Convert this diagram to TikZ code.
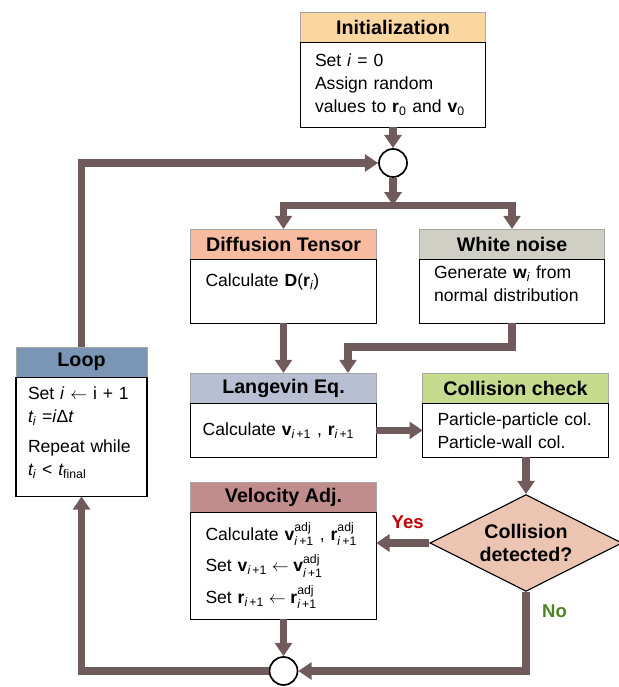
\documentclass[tikz,border=0pt]{standalone}
\usepackage{amsmath}
\usepackage{fontspec}
\setmainfont{Liberation Sans}
\usetikzlibrary{arrows.meta, positioning, shapes.geometric}

\definecolor{initc}{RGB}{250,214,160}
\definecolor{diffc}{RGB}{247,187,160}
\definecolor{noisec}{RGB}{208,207,198}
\definecolor{loopc}{RGB}{122,150,180}
\definecolor{langc}{RGB}{185,191,210}
\definecolor{collc}{RGB}{198,219,142}
\definecolor{velc}{RGB}{192,141,140}
\definecolor{diac}{RGB}{236,196,178}
\definecolor{flowc}{RGB}{113,90,92}
\definecolor{yesc}{RGB}{192,0,0}
\definecolor{noc}{RGB}{80,130,40}

\begin{document}
\begin{tikzpicture}[font=\fontsize{12.5}{16.3}\selectfont,
  head/.style={draw=black!35, line width=0.6pt, minimum width=4.64cm, minimum height=0.76cm, inner sep=0pt, outer sep=0pt, font=\fontsize{14}{17}\selectfont\bfseries},
  body/.style={draw, line width=0.8pt, minimum width=4.64cm, text width=3.9cm, inner xsep=0.37cm, inner ysep=0pt, outer sep=0pt, align=left},
  joint/.style={circle, draw, line width=1.2pt, fill=white, minimum size=0.7cm, inner sep=0pt},
  flow/.style={draw=flowc, line width=5pt, -{Triangle[width=0.42cm, length=0.33cm]}},
  lab/.style={font=\fontsize{13.2}{16}\selectfont\bfseries}]
\useasboundingbox (0,0) rectangle (15.475,17.175);
% boxes
\node[head, fill=initc, anchor=north] (inith) at (9.825,16.875) {Initialization};
\node[body, below=0pt of inith, minimum height=2.125cm] (init) {Set \textit{i} = 0\\Assign random\\values to \textbf{r}\textsubscript{0} and \textbf{v}\textsubscript{0}};
\node[head, fill=diffc, anchor=north] (difh) at (7.0875,11.45) {Diffusion Tensor};
\node[body, below=0pt of difh, minimum height=1.6cm, text depth=0.55cm] (difb) {Calculate \textbf{D}($\textbf{r}_{\textit{i}}$)};
\node[head, fill=noisec, anchor=north] (wnh) at (12.8,11.45) {White noise};
\node[body, below=0pt of wnh, minimum height=1.6cm, text depth=0.95cm] (wnb) {Generate $\textbf{w}_{\textit{i}}$ from\\normal distribution};
\node[head, fill=langc, anchor=north] (langh) at (7.0875,7.85) {Langevin Eq.};
\node[body, below=0pt of langh, minimum height=1.35cm, inner xsep=0.3cm, text width=4.04cm] (langb) {Calculate $\textbf{v}_{\textit{i}\,\text{+1}}$ , $\textbf{r}_{\textit{i}\,\text{+1}}$};
\node[head, fill=collc, anchor=north] (colh) at (12.8875,7.85) {Collision check};
\node[body, below=0pt of colh, minimum height=1.35cm] (colb) {Particle-particle col.\\Particle-wall col.};
\node[head, fill=velc, anchor=north] (velh) at (7.0875,5.125) {Velocity Adj.};
\node[body, below=0pt of velh, minimum height=2.675cm] (velb) {Calculate $\textbf{v}^{\text{adj}}_{\textit{i}\,\text{+1}}$ , $\textbf{r}^{\text{adj}}_{\textit{i}\,\text{+1}}$\\[5pt]
  Set $\textbf{v}_{\textit{i}\,\text{+1}} \leftarrow \textbf{v}^{\text{adj}}_{\textit{i}\,\text{+1}}$\\[5pt]
  Set $\textbf{r}_{\textit{i}\,\text{+1}} \leftarrow \textbf{r}^{\text{adj}}_{\textit{i}\,\text{+1}}$};
\node[head, fill=loopc, anchor=north, minimum width=3.275cm] (looph) at (2.0375,8.5) {Loop};
\node[body, below=0pt of looph, minimum width=3.275cm, inner xsep=0.3cm, text width=2.675cm, minimum height=2.975cm, text depth=2.2cm] (loopb) {Set \textit{i} $\leftarrow$ i + 1\\$\textit{t}_{\textit{i}}$ =\textit{i}Δ\textit{t}\\[5pt]Repeat while\\$\textit{t}_{\textit{i}}$ < $\textit{t}_{\text{final}}$};
\node[draw, diamond, aspect=2, fill=diac, line width=0.8pt, minimum width=4.8cm, minimum height=2.42cm, inner sep=0pt, align=center, font=\fontsize{14}{17}\selectfont\bfseries] (dia) at (13.15,3.6) {Collision\\detected?};
\node[joint] (c1) at (9.825,13.1) {};
\node[joint] (c2) at (7.0875,0.4) {};
% connectors
\coordinate (split) at (9.825,12.04);
\coordinate (merge) at (8.7,8.5);
\draw[flow] (init) -- (c1);
\draw[flow] (c1) -- (split);
\draw[flow] (split) -| (difh);
\draw[flow] (split) -| (wnh);
\draw[flow] (difb) -- (difb.south |- langh.north);
\draw[flow] (wnb) |- (merge) -- (merge |- langh.north);
\draw[flow] (langb) -- (colb);
\draw[flow] (colb.south -| dia.north) -- (dia.north);
\draw[flow] (dia.west) -- node[lab, text=yesc, above=0.15cm, xshift=0.12cm]{Yes} (dia.west -| velb.east);
\draw[flow] (dia) |- node[lab, text=noc, pos=0.12, right=0.2cm]{No} (c2);
\draw[flow] (velb) -- (c2);
\draw[flow] (c2) -| (loopb);
\draw[flow] (looph) |- (c1);
\end{tikzpicture}
\end{document}
